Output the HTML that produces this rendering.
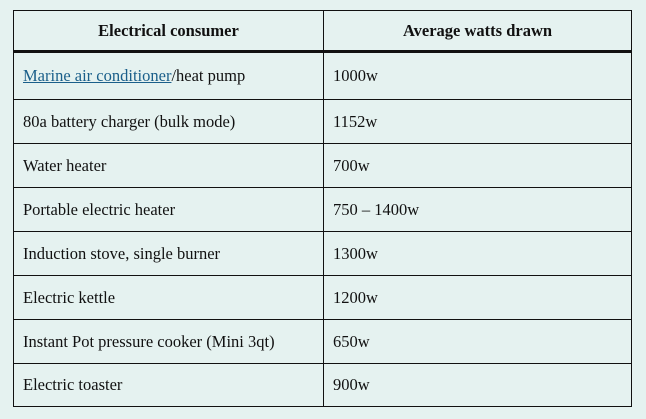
<!DOCTYPE html>
<html><head><style>
body{margin:0;width:646px;height:419px;background:#e5f2f0;font-family:"Liberation Serif",serif;font-size:16.5px;color:#111;position:relative;overflow:hidden}
.h{position:absolute;left:13px;width:619px;top:10px;height:43px;border:1px solid #111;border-bottom:3px solid #111;box-sizing:border-box}
.r{position:absolute;left:13px;width:619px;height:45px;border:1px solid #111;border-top:none;box-sizing:border-box}
.c{position:absolute;top:0;bottom:0;display:flex;align-items:center}
.a{left:9px}.b{left:319px}
.v{position:absolute;left:309px;top:0;bottom:0;border-left:1px solid #111}
.hh{position:absolute;top:0;bottom:0;display:flex;align-items:center;justify-content:center;font-weight:bold}
a{color:#1a5f8a;text-decoration:underline}
</style></head><body>
<div class="h"><div class="v"></div><div class="hh" style="left:0;width:309px">Electrical consumer</div><div class="hh" style="left:310px;width:307px">Average watts drawn</div></div>
<div class="r" style="top:53px;height:47px"><div class="v"></div><div class="c a"><a>Marine air conditioner</a>/heat pump</div><div class="c b">1000w</div></div>
<div class="r" style="top:100px;height:44px"><div class="v"></div><div class="c a">80a battery charger (bulk mode)</div><div class="c b">1152w</div></div>
<div class="r" style="top:144px;height:44px"><div class="v"></div><div class="c a">Water heater</div><div class="c b">700w</div></div>
<div class="r" style="top:188px;height:44px"><div class="v"></div><div class="c a">Portable electric heater</div><div class="c b">750 – 1400w</div></div>
<div class="r" style="top:232px;height:44px"><div class="v"></div><div class="c a">Induction stove, single burner</div><div class="c b">1300w</div></div>
<div class="r" style="top:276px;height:44px"><div class="v"></div><div class="c a">Electric kettle</div><div class="c b">1200w</div></div>
<div class="r" style="top:320px;height:44px"><div class="v"></div><div class="c a">Instant Pot pressure cooker (Mini 3qt)</div><div class="c b">650w</div></div>
<div class="r" style="top:364px;height:43px"><div class="v"></div><div class="c a">Electric toaster</div><div class="c b">900w</div></div>
</body></html>
